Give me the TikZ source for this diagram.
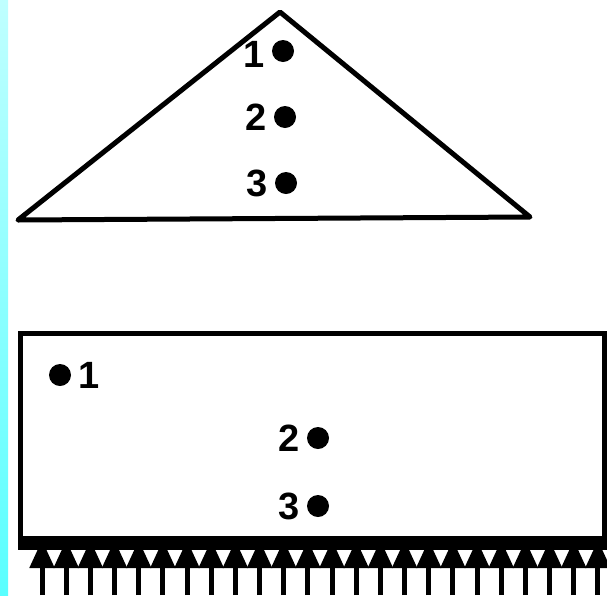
\documentclass[tikz,border=0pt]{standalone}
\usepackage{fontspec}
\setmainfont{Liberation Sans}
\usetikzlibrary{arrows.meta, positioning}

\tikzset{
  spot/.style={circle, fill=black, inner sep=0pt, minimum size=22pt},
  num/.style={font=\fontsize{38}{38}\selectfont\bfseries, inner sep=1pt},
  push/.style={-{Triangle[width=24pt,length=28pt]}, line width=5pt},
}

\begin{document}
\begin{tikzpicture}[x=1pt, y=-1pt, line width=5pt]
  \useasboundingbox (0,0) rectangle (607,595);
  \shade[top color=cyan!25, bottom color=cyan!65] (0,0) rectangle (8,595);

  % triangular section
  \draw[line join=round] (280,12) -- (530,217) -- (18,220) -- cycle;
  \node[spot] (t1) at (283,51) {};
  \node[spot] (t2) at (285,117) {};
  \node[spot] (t3) at (286,183) {};
  \node[num, left=1pt of t1, yshift=-3pt] (lt1) {1};
  \node[num, left=1pt of t2] (lt2) {2};
  \node[num, left=1pt of t3] (lt3) {3};

  % rectangular section
  \draw (20,547) -- (20,333) -- (604,333) -- (604,547);
  \fill (18,536) rectangle (607,550);
  \node[spot] (b1) at (60,375) {};
  \node[spot] (b2) at (318,438) {};
  \node[spot] (b3) at (318,506) {};
  \node[num, right=1pt of b1] (lb1) {1};
  \node[num, left=1pt of b2] (lb2) {2};
  \node[num, left=1pt of b3] (lb3) {3};

  % load from below
  \foreach \i in {0,...,23}
    \draw[push] ({42+24.17*\i},595) -- ({42+24.17*\i},540);
\end{tikzpicture}
\end{document}
